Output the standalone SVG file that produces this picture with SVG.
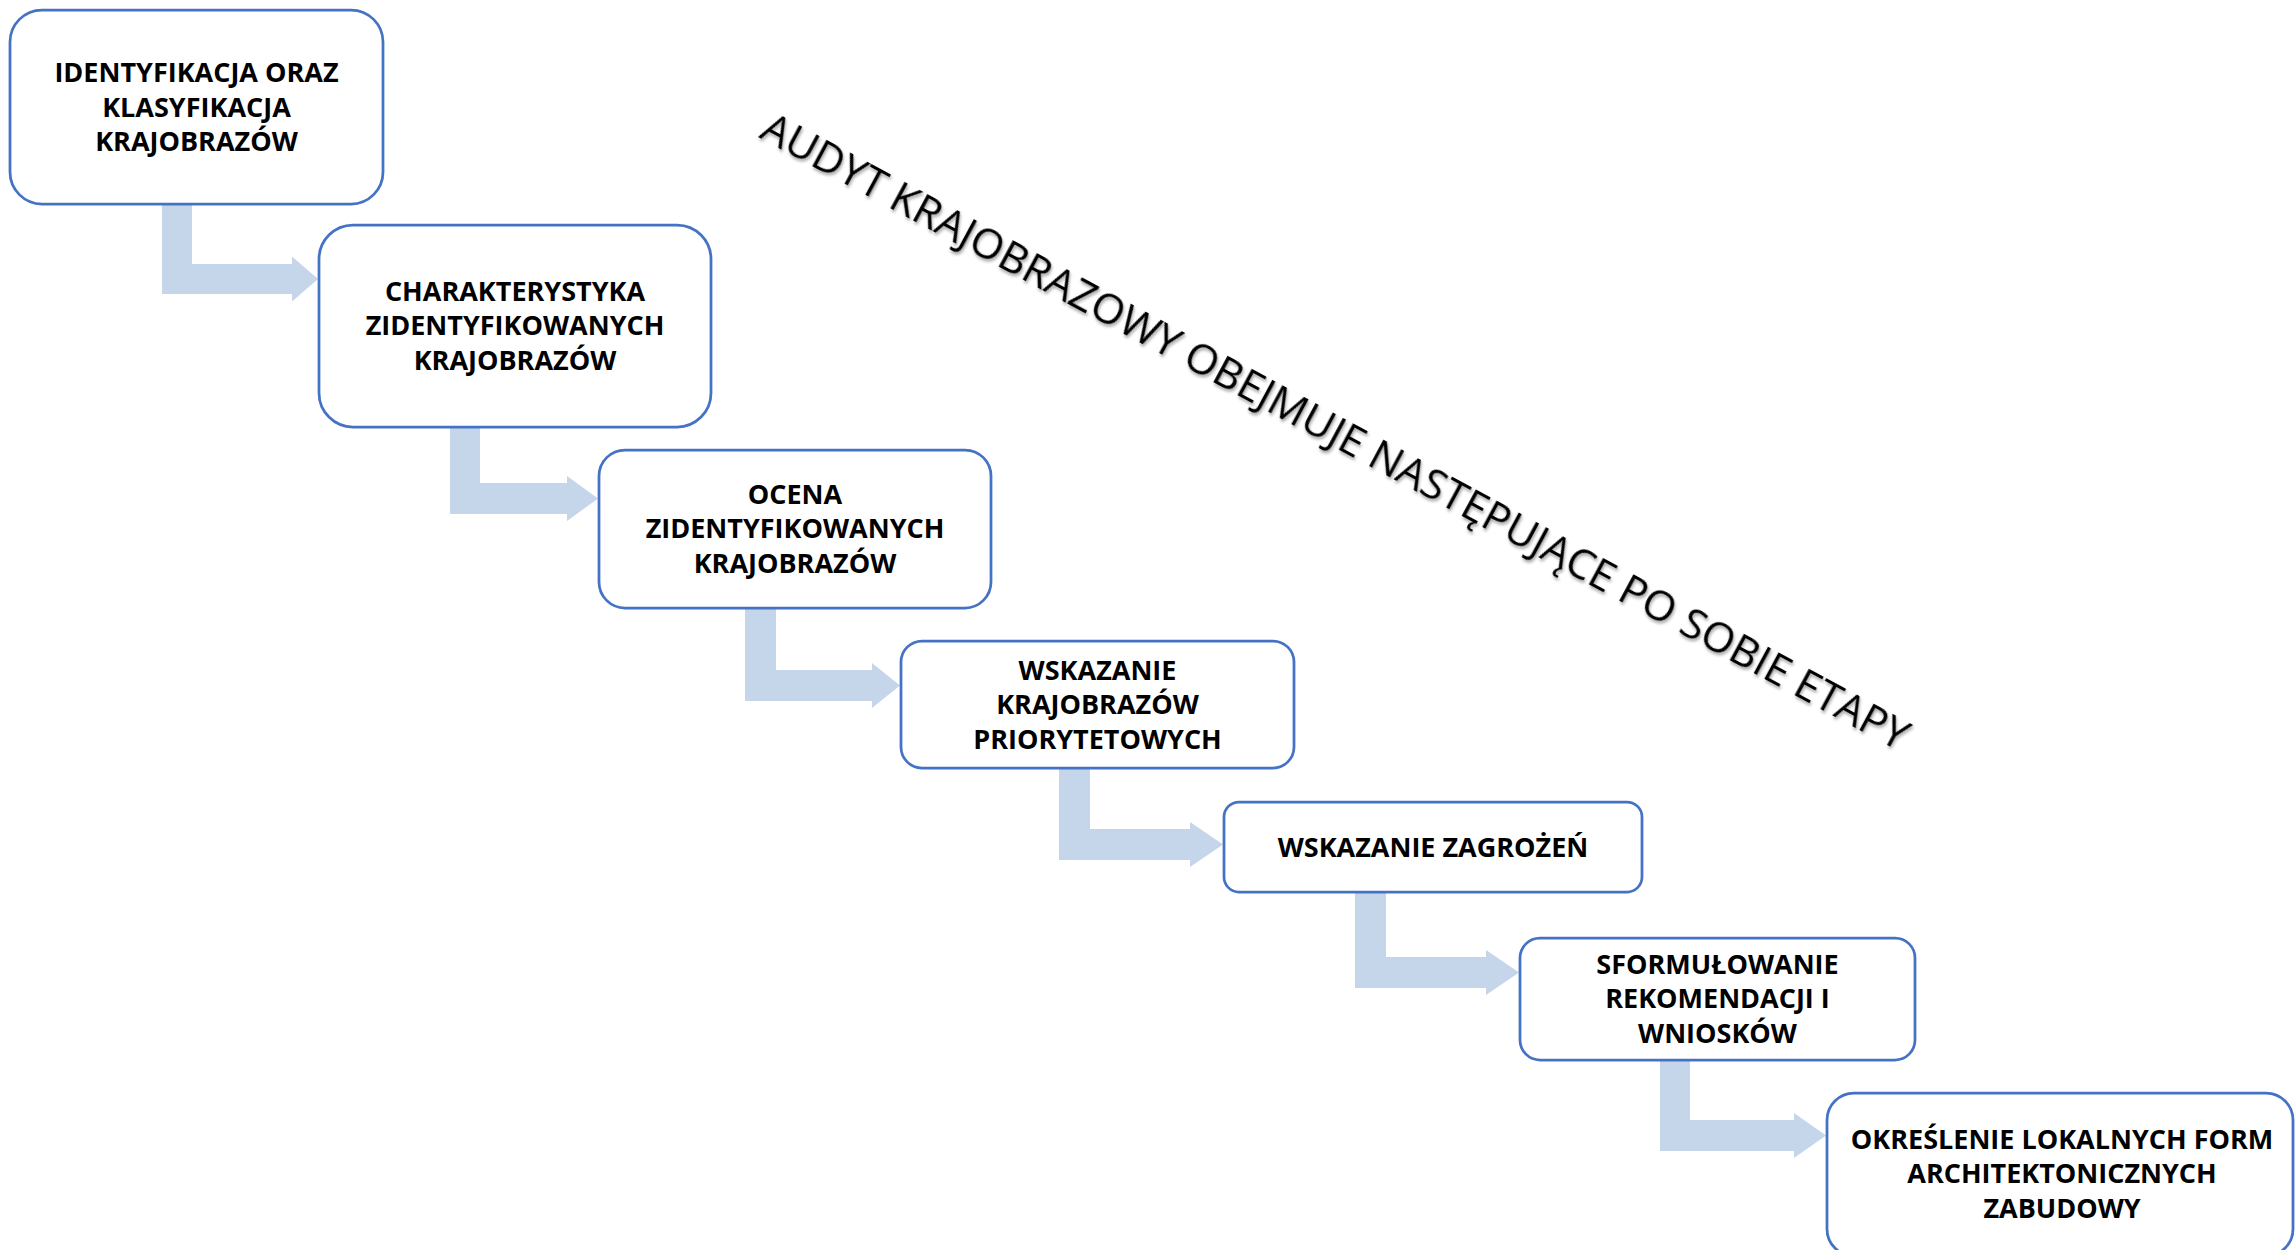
<svg xmlns="http://www.w3.org/2000/svg" width="2295" height="1250" viewBox="0 0 2295 1250">
<defs>
<style>
.box{fill:#ffffff;stroke:#4472C4;stroke-width:2.75}
.lbl{font-family:"Open Sans","Liberation Sans",sans-serif;font-weight:700;font-size:27px;fill:#000000;text-anchor:middle}
.arr{fill:#C5D5EA;stroke:none}
.title{font-family:"Open Sans","Liberation Sans",sans-serif;font-weight:400;font-size:42.3px;fill:#000000}
</style>
<filter id="shadow" x="-5%" y="-5%" width="110%" height="110%">
<feDropShadow dx="2" dy="2" stdDeviation="1.5" flood-color="#000000" flood-opacity="0.35"/>
</filter>
</defs>
<rect width="2295" height="1250" fill="#ffffff"/>
<g id="connectors">
<polygon class="arr" points="162,204 192,204 192,264 292,264 292,256.5 318,279 292,301.5 292,294 162,294"/>
<polygon class="arr" points="450,427 480,427 480,483 567,483 567,476 598,498.5 567,521 567,514 450,514"/>
<polygon class="arr" points="745,608 776,608 776,670 872,670 872,663 900,685.5 872,708 872,701 745,701"/>
<polygon class="arr" points="1059,768 1090,768 1090,829 1190,829 1190,822 1223,844.5 1190,867 1190,860 1059,860"/>
<polygon class="arr" points="1355,892 1386,892 1386,957 1486,957 1486,950 1519,972.5 1486,995 1486,988 1355,988"/>
<polygon class="arr" points="1660,1060 1690,1060 1690,1120 1794,1120 1794,1113 1826,1135.5 1794,1158 1794,1151 1660,1151"/>
</g>
<g id="node1">
<rect class="box" x="10" y="10" width="373" height="194" rx="32" ry="32"/>
<text class="lbl" x="196.5" y="82">IDENTYFIKACJA ORAZ</text>
<text class="lbl" x="196.5" y="116.5">KLASYFIKACJA</text>
<text class="lbl" x="196.5" y="151">KRAJOBRAZÓW</text>
</g>
<g id="node2">
<rect class="box" x="319" y="225" width="392" height="202" rx="34" ry="34"/>
<text class="lbl" x="515" y="300.5">CHARAKTERYSTYKA</text>
<text class="lbl" x="515" y="335">ZIDENTYFIKOWANYCH</text>
<text class="lbl" x="515" y="369.5">KRAJOBRAZÓW</text>
</g>
<g id="node3">
<rect class="box" x="599" y="450" width="392" height="158" rx="26" ry="26"/>
<text class="lbl" x="795" y="503.5">OCENA</text>
<text class="lbl" x="795" y="538">ZIDENTYFIKOWANYCH</text>
<text class="lbl" x="795" y="572.5">KRAJOBRAZÓW</text>
</g>
<g id="node4">
<rect class="box" x="901" y="641" width="393" height="127" rx="21" ry="21"/>
<text class="lbl" x="1097.5" y="679.5">WSKAZANIE</text>
<text class="lbl" x="1097.5" y="714">KRAJOBRAZÓW</text>
<text class="lbl" x="1097.5" y="748.5">PRIORYTETOWYCH</text>
</g>
<g id="node5">
<rect class="box" x="1224" y="802" width="418" height="90" rx="15" ry="15"/>
<text class="lbl" x="1433" y="856.5">WSKAZANIE ZAGROŻEŃ</text>
</g>
<g id="node6">
<rect class="box" x="1520" y="938" width="395" height="122" rx="20" ry="20"/>
<text class="lbl" x="1717.5" y="973.5">SFORMUŁOWANIE</text>
<text class="lbl" x="1717.5" y="1008">REKOMENDACJI I</text>
<text class="lbl" x="1717.5" y="1042.5">WNIOSKÓW</text>
</g>
<g id="node7">
<rect class="box" x="1827" y="1093" width="466" height="163" rx="27" ry="27"/>
<text class="lbl" x="2062" y="1148.5">OKREŚLENIE LOKALNYCH FORM</text>
<text class="lbl" x="2062" y="1183">ARCHITEKTONICZNYCH</text>
<text class="lbl" x="2062" y="1217.5">ZABUDOWY</text>
</g>
<g id="title">
<text class="title" x="758" y="137" transform="rotate(28.3 758 137)" filter="url(#shadow)">AUDYT KRAJOBRAZOWY OBEJMUJE NASTĘPUJĄCE PO SOBIE ETAPY</text>
</g>
</svg>
